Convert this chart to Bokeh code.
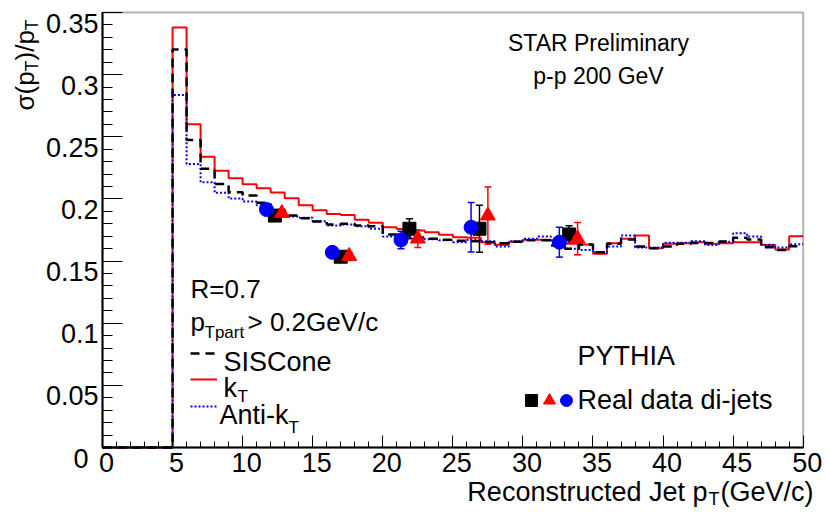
from math import pi
from bokeh.plotting import figure
from bokeh.core.properties import value
from bokeh.models import (Range1d, FixedTicker, Label, Legend, LegendItem,
                          Whisker, TeeHead, ColumnDataSource, BoxAnnotation)
from bokeh.embed import file_html
from bokeh.resources import INLINE

# ---------------- data ----------------
bin_edges = list(range(0, 51))

sigma_siscone = [0, 0, 0, 0, 0,
                 0.3202, 0.2475, 0.2242, 0.2121, 0.2054,
                 0.2027, 0.1970, 0.1912, 0.1866, 0.1845,
                 0.1818, 0.1794, 0.1800, 0.1786, 0.1780,
                 0.1714, 0.1700, 0.1690, 0.1680, 0.1671,
                 0.1663, 0.1660, 0.1652, 0.1644, 0.1655,
                 0.1668, 0.1668, 0.1625, 0.1600, 0.1633,
                 0.1570, 0.1639, 0.1674, 0.1617, 0.1604,
                 0.1617, 0.1639, 0.1645, 0.1645, 0.1657,
                 0.1687, 0.1673, 0.1612, 0.1590, 0.1620]

sigma_kt = [0, 0, 0, 0, 0,
            0.338, 0.260, 0.234, 0.2226, 0.2166,
            0.2118, 0.2085, 0.2051, 0.2005, 0.1949,
            0.1908, 0.1878, 0.1870, 0.1832, 0.1808,
            0.1773, 0.1759, 0.1746, 0.1732, 0.1711,
            0.1692, 0.1687, 0.1652, 0.1632, 0.1655,
            0.1671, 0.1671, 0.1665, 0.1640, 0.1633,
            0.1558, 0.1644, 0.1679, 0.1706, 0.1604,
            0.1639, 0.1644, 0.1652, 0.1639, 0.1644,
            0.1652, 0.1652, 0.1630, 0.1593, 0.1700]

sigma_antikt = [0, 0, 0, 0, 0,
                0.2837, 0.2282, 0.2134, 0.2049, 0.2003,
                0.1979, 0.1950, 0.1901, 0.1858, 0.1848,
                0.1821, 0.1786, 0.1794, 0.1780, 0.1760,
                0.1697, 0.1692, 0.1680, 0.1676, 0.1668,
                0.1652, 0.1670, 0.1660, 0.1617, 0.1660,
                0.1680, 0.1697, 0.1650, 0.1600, 0.1590,
                0.1570, 0.1617, 0.1706, 0.1610, 0.1610,
                0.1647, 0.1647, 0.1660, 0.1630, 0.1655,
                0.1724, 0.1697, 0.1632, 0.1610, 0.1636]

# real data di-jets
data_siscone_x = [12.3, 17.0, 21.9, 26.9, 33.3]
data_siscone_y = [0.1866, 0.1535, 0.1760, 0.1760, 0.1714]
data_siscone_err = [0.003, 0.003, 0.008, 0.019, 0.007]

data_kt_x = [12.8, 17.6, 22.5, 27.5, 33.9]
data_kt_y = [0.1885, 0.1540, 0.1680, 0.1866, 0.1680]
data_kt_err = [0.003, 0.003, 0.007, 0.023, 0.013]

data_antikt_x = [11.7, 16.4, 21.3, 26.3, 32.6]
data_antikt_y = [0.1915, 0.1570, 0.1670, 0.1772, 0.1652]
data_antikt_err = [0.003, 0.003, 0.007, 0.020, 0.012]

x_ticks = [0, 5, 10, 15, 20, 25, 30, 35, 40, 45, 50]
x_tick_labels = ["0", "5", "10", "15", "20", "25", "30", "35", "40", "45", "50"]
y_ticks = [0, 0.05, 0.1, 0.15, 0.2, 0.25, 0.3, 0.35]
y_tick_labels = ["0", "0.05", "0.1", "0.15", "0.2", "0.25", "0.3", "0.35"]

FONT = "Liberation Sans"

# ---------------- geometry (page pixels of the plotting box) ----------------
W, H = 826, 508
BOX_L, BOX_R, BOX_T, BOX_B = 102, 802.7, 12, 447
XMIN, XMAX, YMIN, YMAX = 0, 50, 0, 0.35
sx = (BOX_R - BOX_L) / (XMAX - XMIN)
sy = (BOX_B - BOX_T) / (YMAX - YMIN)

p = figure(width=W, height=H, output_backend="svg", toolbar_location=None,
           x_range=Range1d(XMIN - BOX_L / sx, XMIN + (W - BOX_L) / sx),
           y_range=Range1d(YMIN - (H - BOX_B) / sy, YMIN + BOX_B / sy),
           min_border=0, min_border_left=0, min_border_right=0,
           min_border_top=0, min_border_bottom=0)
p.background_fill_color = "white"
p.border_fill_color = "white"
p.outline_line_color = None
p.xgrid.visible = False
p.ygrid.visible = False

p.xaxis.fixed_location = YMIN
p.yaxis.fixed_location = XMIN
p.xaxis.bounds = (XMIN, XMAX)
p.yaxis.bounds = (YMIN, YMAX)

p.xaxis.ticker = FixedTicker(ticks=x_ticks, minor_ticks=list(range(0, 51)))
p.yaxis.ticker = FixedTicker(ticks=y_ticks,
                             minor_ticks=[i / 100 for i in range(0, 36)])
# tick labels are drawn below as text placed at the tick values (ROOT-like offsets)
p.xaxis.major_label_overrides = {t: "" for t in x_ticks}
p.yaxis.major_label_overrides = {t: "" for t in y_ticks}

for ax in (p.xaxis[0], p.yaxis[0]):
    ax.axis_line_color = "black"
    ax.axis_line_width = 2
    ax.major_tick_out = 0
    ax.minor_tick_out = 0
    ax.major_tick_line_color = "black"
    ax.minor_tick_line_color = "black"
p.xaxis.major_tick_in = 12
p.xaxis.minor_tick_in = 6
p.yaxis.major_tick_in = 20
p.yaxis.minor_tick_in = 10

y_label_dx = [-14 if lab == "0" else -4 for lab in y_tick_labels]

p.text(x=x_ticks, y=[YMIN] * len(x_ticks), text=x_tick_labels,
       x_offset=4, y_offset=14.5, text_align="center", text_baseline="middle",
       text_font=value(FONT), text_font_size=value("27px"), text_color="black")
p.text(x=[XMIN] * len(y_ticks), y=y_ticks, text=y_tick_labels,
       x_offset=y_label_dx, y_offset=10.5, text_align="right",
       text_baseline="middle",
       text_font=value(FONT), text_font_size=value("27px"), text_color="black")

# frame box around the data area
p.add_layout(BoxAnnotation(left=XMIN, right=XMAX, bottom=YMIN, top=YMAX,
                           fill_color=None, fill_alpha=0,
                           line_color="black", line_width=2))

# ---------------- histograms ----------------
def steps(vals):
    return list(vals) + [vals[-1]]

r_kt = p.step(bin_edges, steps(sigma_kt), mode="after",
              line_color="red", line_width=2)
r_anti = p.step(bin_edges, steps(sigma_antikt), mode="after",
                line_color="blue", line_width=2, line_dash="2 2")
r_sis = p.step(bin_edges, steps(sigma_siscone), mode="after",
               line_color="black", line_width=2.5, line_dash="9 6")

# ---------------- data points ----------------
def errbars(xs, ys, es, color):
    src = ColumnDataSource(dict(x=xs,
                                lower=[y - e for y, e in zip(ys, es)],
                                upper=[y + e for y, e in zip(ys, es)]))
    w = Whisker(source=src, base="x", lower="lower", upper="upper",
                dimension="height", line_color=color, line_width=1.5,
                upper_head=TeeHead(size=7, line_color=color, line_width=1.5),
                lower_head=TeeHead(size=7, line_color=color, line_width=1.5))
    p.add_layout(w)

errbars(data_siscone_x, data_siscone_y, data_siscone_err, "black")
errbars(data_kt_x, data_kt_y, data_kt_err, "red")
errbars(data_antikt_x, data_antikt_y, data_antikt_err, "blue")

m_sq = p.scatter(data_siscone_x, data_siscone_y, marker="square", size=13,
                 color="black")
m_tri = p.scatter(data_kt_x, data_kt_y, marker="triangle", size=15,
                  color="red")
m_cir = p.scatter(data_antikt_x, data_antikt_y, marker="circle", size=14,
                  color="blue")

# dummy renderer for the PYTHIA legend key (solid black line)
r_pythia = p.line(x=[], y=[], line_color="black", line_width=2)

# ---------------- legends (keys only; texts are labels) ----------------
def key(renderer, left, cy, gw, gh):
    lg = Legend(items=[LegendItem(label="", renderers=[renderer])],
                location=(left, H - (cy + gh / 2)),
                glyph_width=gw, glyph_height=gh, label_height=gh,
                label_standoff=0, label_text_font_size="1px",
                padding=0, margin=0, spacing=0,
                border_line_color=None, background_fill_alpha=0)
    p.add_layout(lg)


key(r_sis, 190, 353, 25, 20)
key(r_kt, 190, 379, 27, 20)
key(r_anti, 190, 406, 27, 20)
key(r_pythia, 531, 353, 27, 20)
key(m_sq, 531 - 15, 400, 30, 30)
key(m_tri, 549 - 15, 400, 30, 30)
key(m_cir, 566 - 15, 400, 30, 30)

# ---------------- texts (anchored at their vertical centre) ----------------
def txt(text, px, py, size, align="left", angle=0, color="black"):
    p.add_layout(Label(x=XMIN, y=YMIN, x_offset=px - BOX_L,
                       y_offset=BOX_B - py,
                       text=text, text_font=FONT, text_font_size=f"{size}px",
                       text_color=color, text_align=align,
                       text_baseline="middle", angle=angle))


txt("STAR Preliminary", 598, 42, 23, align="center")
txt("p-p 200 GeV", 598, 75, 23, align="center")
txt("R=0.7", 190, 288, 26)
txt("p", 190, 321, 26)
txt("Tpart", 204, 332, 17)
txt("> 0.2GeV/c", 247, 321, 26)
txt("SISCone", 223, 361, 27)
txt("k", 223, 387, 27)
txt("T", 237, 396, 17)
txt("Anti-k", 219, 414, 27)
txt("T", 288, 427, 17)
txt("PYTHIA", 577, 355, 27)
txt("Real data di-jets", 577, 399, 27)

# x-axis title
txt("Reconstructed Jet p", 707, 491, 27, align="right")
txt("T", 708, 498, 18)
txt("(GeV/c)", 720, 491, 27)

# y-axis title (rotated, reading upwards)
txt("σ(p", 24, 110, 26, angle=pi / 2)
txt("T", 31, 71, 18, angle=pi / 2)
txt(")/p", 24, 60, 26, angle=pi / 2)
txt("T", 31, 30, 18, angle=pi / 2)

open("out.html", "w").write(file_html(p, INLINE))
